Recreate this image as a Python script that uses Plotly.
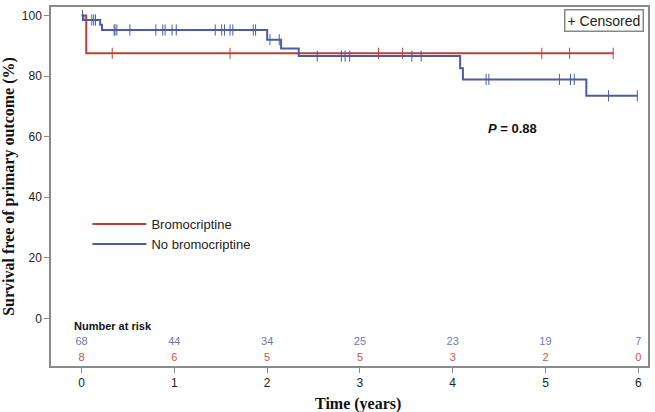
import plotly.graph_objects as go
import numpy as np

# ---- data ----
red_name = "Bromocriptine"
blue_name = "No bromocriptine"

red_times = [0, 0.05, 5.73]
red_surv = [100, 87.5, 87.5]
red_censor = [0.33, 1.60, 3.20, 3.46, 4.96, 5.26, 5.73]

blue_times = [0, 0.02, 0.20, 0.22, 2.00, 2.15, 2.34, 4.08, 4.11, 5.44, 5.99]
blue_surv = [100, 98.5, 96.9, 95.2, 92.0, 89.1, 86.6, 82.6, 78.9, 73.5, 73.5]
blue_censor = [0.01, 0.11, 0.13, 0.15, 0.35, 0.36, 0.38, 0.52, 0.80, 0.875, 0.90,
               0.975, 1.02, 1.44, 1.51, 1.54, 1.60, 1.63, 1.85, 1.875, 2.03, 2.13,
               2.54, 2.80, 2.84, 2.89, 3.56, 3.66, 4.36, 4.39, 5.15, 5.27, 5.31,
               5.68, 5.99]

risk_times = [0, 1, 2, 3, 4, 5, 6]
risk_blue = [68, 44, 34, 25, 23, 19, 7]
risk_red = [8, 6, 5, 5, 3, 2, 0]

x_ticks = [0, 1, 2, 3, 4, 5, 6]
y_ticks = [0, 20, 40, 60, 80, 100]

p_text = "<b><i>P</i> = 0.88</b>"

RED = "#b8423a"
BLUE = "#4a5d9f"


def surv_at(times, surv, t):
    idx = 0
    for i, tt in enumerate(times):
        if tt <= t:
            idx = i
    return surv[idx]


fig = go.Figure()

fig.add_trace(go.Scatter(x=red_times, y=red_surv, mode="lines", line_shape="hv",
                         line=dict(color=RED, width=2), name=red_name))
fig.add_trace(go.Scatter(x=blue_times, y=blue_surv, mode="lines", line_shape="hv",
                         line=dict(color=BLUE, width=2), name=blue_name))

fig.add_trace(go.Scatter(x=red_censor, y=[surv_at(red_times, red_surv, t) for t in red_censor],
                         mode="markers", showlegend=False,
                         marker=dict(symbol="line-ns-open", size=8, color=RED,
                                     line=dict(color=RED, width=1))))
fig.add_trace(go.Scatter(x=blue_censor, y=[surv_at(blue_times, blue_surv, t) for t in blue_censor],
                         mode="markers", showlegend=False,
                         marker=dict(symbol="line-ns-open", size=8, color=BLUE,
                                     line=dict(color=BLUE, width=1))))

# number at risk rows
fig.add_trace(go.Scatter(x=risk_times, y=[-7.9] * len(risk_times), mode="text",
                         text=[str(v) for v in risk_blue], showlegend=False,
                         textfont=dict(family="Liberation Sans", size=11, color="#6a78ad")))
fig.add_trace(go.Scatter(x=risk_times, y=[-13.2] * len(risk_times), mode="text",
                         text=[str(v) for v in risk_red], showlegend=False,
                         textfont=dict(family="Liberation Sans", size=11, color="#c0564c")))

fig.add_annotation(x=-0.1, y=-2.4, xref="x", yref="y", text="<b>Number at risk</b>",
                   showarrow=False, xanchor="left",
                   font=dict(family="Liberation Sans", size=11, color="#111"))

fig.add_annotation(x=4.64, y=62.6, xref="x", yref="y", text=p_text, showarrow=False,
                   font=dict(family="Liberation Sans", size=13, color="#111"))

fig.add_annotation(x=0.994, y=0.995, xref="paper", yref="paper", text="+ Censored",
                   showarrow=False, xanchor="right", yanchor="top",
                   font=dict(family="Liberation Sans", size=14, color="#222"),
                   bordercolor="#888", borderwidth=1.5, borderpad=2, bgcolor="white")

fig.add_annotation(x=0.515, y=0, xref="paper", yref="paper", yshift=-27,
                   text="<b>Time (years)</b>", showarrow=False, yanchor="top",
                   font=dict(family="Liberation Serif", size=16, color="#111"))

axis_common = dict(showgrid=False, zeroline=False, showline=True, mirror=True,
                   linecolor="#8a8a8a", linewidth=1.5, ticks="outside", ticklen=5,
                   tickcolor="#8a8a8a", tickwidth=1,
                   tickfont=dict(family="Liberation Sans", size=12, color="#222"))

fig.update_xaxes(range=[-0.33, 6.105], tickvals=x_ticks, **axis_common)
fig.update_yaxes(range=[-15.7, 102.8], tickvals=y_ticks,
                 title=dict(text="<b>Survival free of primary outcome (%)</b>", standoff=6,
                            font=dict(family="Liberation Serif", size=16, color="#111")),
                 **axis_common)

fig.update_layout(
    width=655, height=412,
    margin=dict(l=51, r=5, t=5, b=46),
    paper_bgcolor="white", plot_bgcolor="white",
    showlegend=True,
    legend=dict(x=0.061, y=0.437, xanchor="left", yanchor="top", bgcolor="rgba(0,0,0,0)",
                font=dict(family="Liberation Sans", size=13, color="#222"),
                itemwidth=54, tracegroupgap=0),
)

fig.write_html("out.html", config={"displayModeBar": False},
               post_script="document.body.style.margin='0';")
